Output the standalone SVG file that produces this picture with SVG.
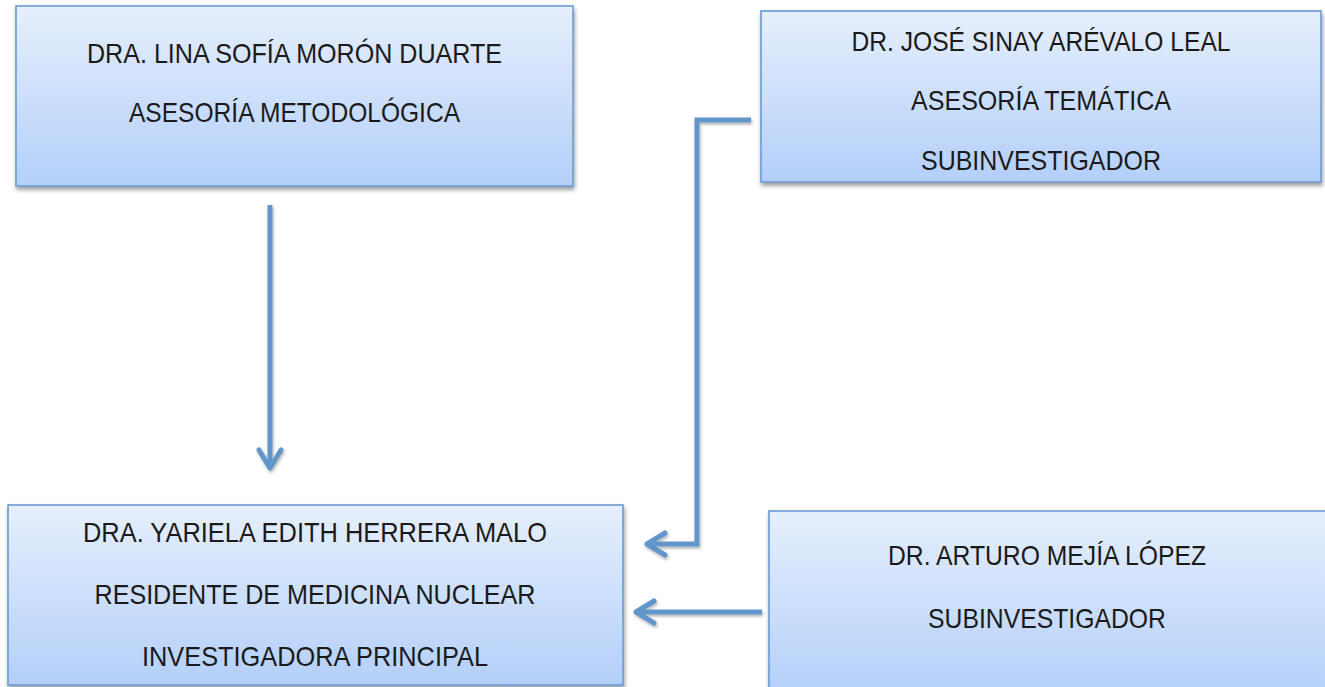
<svg xmlns="http://www.w3.org/2000/svg" width="1325" height="687" viewBox="0 0 1325 687">
<style>
.box{fill:url(#g);stroke:#6b9bd2;stroke-width:1.6;filter:url(#sh)}
.t{font-family:"Liberation Sans Narrow","Liberation Sans",Arial,sans-serif;font-size:28px;fill:#1a1a1a;text-anchor:middle}
.c{fill:none;stroke:#6296ca;stroke-width:5;stroke-linejoin:miter}
</style>
<defs>
<linearGradient id="g" x1="0" y1="0" x2="0" y2="1">
<stop offset="0" stop-color="#e6effd"/>
<stop offset="1" stop-color="#b3cff9"/>
</linearGradient>
<filter id="sh" x="-5%" y="-5%" width="115%" height="125%">
<feDropShadow dx="1" dy="3" stdDeviation="2" flood-color="#000" flood-opacity="0.4"/>
</filter>
<filter id="lsh" x="-20%" y="-20%" width="140%" height="140%">
<feDropShadow dx="1" dy="2" stdDeviation="1.5" flood-color="#000" flood-opacity="0.3"/>
</filter>
<marker id="ah" markerUnits="userSpaceOnUse" orient="auto" markerWidth="30" markerHeight="30" refX="0" refY="0" viewBox="-22 -15 26 30" overflow="visible">
<path d="M -18 -11 L 0 0 L -18 11" fill="none" stroke="#6296ca" stroke-width="5" stroke-linecap="round" stroke-linejoin="round"/>
</marker>
</defs>
<rect width="1325" height="687" fill="#fff"/>
<g id="connectors" filter="url(#lsh)">
<path class="c" d="M 270 205 L 270 468" marker-end="url(#ah)"/>
<path class="c" d="M 751 120 L 697 120 L 697 544 L 647 544" marker-end="url(#ah)"/>
<path class="c" d="M 762 612 L 636 612" marker-end="url(#ah)"/>
</g>
<g id="node-moron">
<rect class="box" x="16" y="6" width="557" height="180"/>
<text class="t" x="294.5" y="63" textLength="415" lengthAdjust="spacingAndGlyphs">DRA. LINA SOFÍA MORÓN DUARTE</text>
<text class="t" x="294.5" y="122" textLength="331" lengthAdjust="spacingAndGlyphs">ASESORÍA METODOLÓGICA</text>
</g>
<g id="node-arevalo">
<rect class="box" x="761" y="11" width="560" height="171"/>
<text class="t" x="1041" y="51" textLength="379" lengthAdjust="spacingAndGlyphs">DR. JOSÉ SINAY ARÉVALO LEAL</text>
<text class="t" x="1041" y="110" textLength="260" lengthAdjust="spacingAndGlyphs">ASESORÍA TEMÁTICA</text>
<text class="t" x="1041" y="170" textLength="240" lengthAdjust="spacingAndGlyphs">SUBINVESTIGADOR</text>
</g>
<g id="node-herrera">
<rect class="box" x="8" y="505" width="615" height="180"/>
<text class="t" x="315" y="542" textLength="464" lengthAdjust="spacingAndGlyphs">DRA. YARIELA EDITH HERRERA MALO</text>
<text class="t" x="315" y="604" textLength="441" lengthAdjust="spacingAndGlyphs">RESIDENTE DE MEDICINA NUCLEAR</text>
<text class="t" x="315" y="666" textLength="346" lengthAdjust="spacingAndGlyphs">INVESTIGADORA PRINCIPAL</text>
</g>
<g id="node-mejia">
<rect class="box" x="769" y="511" width="562" height="185"/>
<text class="t" x="1047" y="565" textLength="318" lengthAdjust="spacingAndGlyphs">DR. ARTURO MEJÍA LÓPEZ</text>
<text class="t" x="1047" y="628" textLength="238" lengthAdjust="spacingAndGlyphs">SUBINVESTIGADOR</text>
</g>
</svg>
